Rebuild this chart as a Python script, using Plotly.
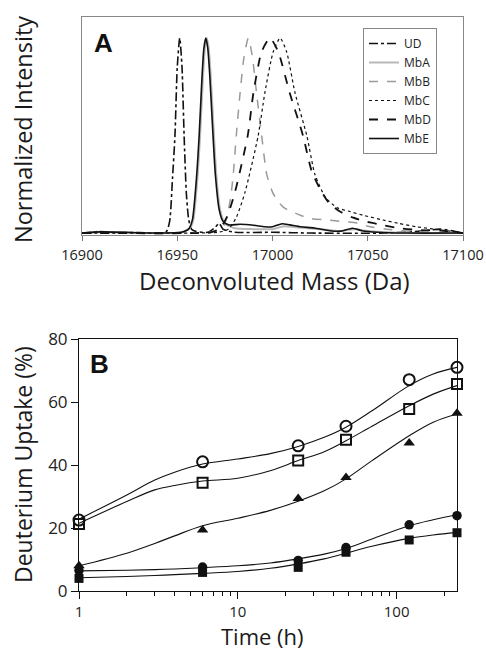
import plotly.graph_objects as go
import math

# ---------------- Panel A data ----------------
ud_mass = [16900, 16905, 16909, 16915, 16930, 16944, 16946, 16947.5, 16948.8, 16950, 16951.3, 16952.5, 16953.6, 16954.8, 16956, 16957.5, 16960, 16966, 16970, 16972, 16974, 16980, 17000, 17020, 17060, 17078, 17088, 17095, 17100]
ud_int = [0.0, 0.004, 0.008, 0.004, 0.002, 0.004, 0.06, 0.28, 0.5, 0.85, 1.0, 0.85, 0.5, 0.2, 0.07, 0.02, 0.008, 0.004, 0.03, 0.05, 0.02, 0.004, 0.004, 0.0, 0.0, 0.01, 0.02, 0.01, 0.0]

mba_mass = [16900, 16910, 16940, 16953, 16957, 16958.5, 16960.5, 16962, 16963.5, 16964.5, 16965.5, 16966.5, 16967.5, 16969, 16970.5, 16972.5, 16975, 16980, 16990, 17000, 17006, 17012, 17025, 17035, 17043, 17050, 17070, 17100]
mba_int = [0.0, 0.004, 0.0, 0.005, 0.03, 0.07, 0.27, 0.5, 0.8, 0.95, 1.0, 0.95, 0.82, 0.55, 0.3, 0.12, 0.05, 0.025, 0.02, 0.02, 0.035, 0.03, 0.02, 0.01, 0.02, 0.01, 0.0, 0.0]

mbb_mass = [16900, 16960, 16970, 16974, 16976, 16978, 16979.4, 16981, 16983, 16985, 16987.3, 16989.5, 16991.6, 16994.3, 16997, 17000, 17003, 17006, 17010, 17015, 17020, 17030, 17038, 17045, 17050, 17060, 17070, 17080, 17090, 17100]
mbb_int = [0.0, 0.0, 0.01, 0.03, 0.08, 0.18, 0.3, 0.5, 0.72, 0.9, 1.0, 0.9, 0.72, 0.5, 0.3, 0.21, 0.16, 0.13, 0.11, 0.09, 0.075, 0.066, 0.058, 0.05, 0.035, 0.02, 0.01, 0.005, 0.0, 0.0]

mbc_mass = [16900, 16960, 16972, 16976.8, 16981, 16985.6, 16992.5, 16996, 17000.4, 17004, 17007.4, 17011.8, 17018, 17022.3, 17028, 17034, 17040.7, 17048, 17058, 17066, 17075.7, 17085, 17093, 17100]
mbc_int = [0.0, 0.0, 0.005, 0.02, 0.08, 0.21, 0.5, 0.72, 0.93, 1.0, 0.93, 0.72, 0.5, 0.3, 0.18, 0.13, 0.11, 0.09, 0.067, 0.05, 0.032, 0.02, 0.01, 0.0]

mbd_mass = [16900, 16960, 16968, 16972, 16976, 16980.3, 16987, 16990, 16994.3, 16998.7, 17003, 17009, 17016, 17020.5, 17025.8, 17030, 17035.4, 17042, 17049.4, 17058, 17067, 17078, 17088, 17096, 17100]
mbd_int = [0.0, 0.0, 0.005, 0.02, 0.08, 0.21, 0.5, 0.72, 0.93, 1.0, 0.93, 0.72, 0.5, 0.32, 0.21, 0.15, 0.11, 0.08, 0.058, 0.04, 0.024, 0.015, 0.012, 0.005, 0.0]

mbe_mass = [16900, 16910, 16940, 16952, 16956, 16958, 16960, 16961.5, 16963, 16964, 16965, 16966, 16967, 16968.5, 16970, 16972, 16974, 16977, 16983, 16990, 16996, 17000, 17005, 17009, 17015, 17022, 17030, 17036, 17042, 17047, 17055, 17070, 17100]
mbe_int = [0.0, 0.006, 0.0, 0.004, 0.02, 0.07, 0.27, 0.5, 0.8, 0.95, 1.0, 0.95, 0.82, 0.55, 0.3, 0.12, 0.06, 0.042, 0.045, 0.04, 0.032, 0.032, 0.048, 0.042, 0.032, 0.026, 0.012, 0.01, 0.025, 0.012, 0.004, 0.0, 0.0]

series_names = ["UD", "MbA", "MbB", "MbC", "MbD", "MbE"]
mass_ticks = [16900, 16950, 17000, 17050, 17100]

# ---------------- Panel B data ----------------
time_h = [1, 6, 24, 48, 120, 240]
open_circle = [22.5, 41.0, 46.1, 52.3, 67.1, 71.0]
open_square = [21.3, 34.4, 41.4, 48.0, 57.8, 65.7]
filled_triangle = [8.0, 19.4, 29.4, 36.0, 47.0, 56.4]
filled_circle = [6.5, 7.6, 9.7, 13.8, 21.0, 23.9]
filled_square = [4.0, 5.9, 7.5, 12.3, 16.2, 18.5]

# fitted curves drawn through the points
fit_time = [1, 2, 3, 4, 6, 10, 16, 24, 35, 48, 70, 120, 170, 240]
fit_open_circle = [22.8, 30.5, 35.2, 37.7, 40.3, 41.9, 43.6, 45.9, 48.8, 52.0, 57.2, 65.2, 68.9, 71.0]
fit_open_square = [21.5, 28.4, 32.1, 33.5, 34.9, 35.8, 38.2, 41.4, 44.2, 47.7, 52.3, 58.8, 62.5, 65.2]
fit_filled_triangle = [8.0, 12.0, 15.1, 17.5, 20.7, 23.1, 25.6, 28.5, 31.8, 35.6, 41.4, 49.3, 53.6, 56.2]
fit_filled_circle = [6.4, 6.6, 6.8, 7.0, 7.4, 8.0, 8.9, 10.2, 11.7, 13.5, 16.5, 20.7, 22.6, 24.2]
fit_filled_square = [4.2, 4.6, 4.9, 5.2, 5.6, 6.2, 7.2, 8.6, 10.2, 12.0, 14.2, 16.7, 17.8, 18.6]
time_ticks = [1, 10, 100]

W, H = 486, 650
def px(x):
    return x / W
def py(y):
    return 1 - y / H

FONT = "Open Sans"
fig = go.Figure()

styleA = [
    (ud_mass, ud_int, dict(color="#111111", width=1.6, dash="dashdot")),
    (mba_mass, mba_int, dict(color="#b8b8b8", width=2.0, dash="solid")),
    (mbb_mass, mbb_int, dict(color="#9a9a9a", width=1.5, dash="dash")),
    (mbc_mass, mbc_int, dict(color="#111111", width=1.2, dash="dot")),
    (mbd_mass, mbd_int, dict(color="#111111", width=1.8, dash="dash")),
    (mbe_mass, mbe_int, dict(color="#111111", width=1.6, dash="solid")),
]
for name, (mx, my, ln) in zip(series_names, styleA):
    fig.add_trace(go.Scatter(x=mx, y=my, mode="lines", name=name,
                             line=dict(shape="spline", smoothing=0.6, **ln),
                             xaxis="x", yaxis="y"))

fits = [fit_open_circle, fit_open_square, fit_filled_triangle, fit_filled_circle, fit_filled_square]
for fv in fits:
    fig.add_trace(go.Scatter(x=fit_time, y=fv, mode="lines", showlegend=False,
                             line=dict(shape="spline", smoothing=1.0, color="#111111", width=1.1),
                             xaxis="x2", yaxis="y2"))

seriesB = [
    (open_circle, dict(symbol="circle-open", size=11, color="#111111", line=dict(width=2))),
    (open_square, dict(symbol="square-open", size=10, color="#111111", line=dict(width=2))),
    (filled_triangle, dict(symbol="triangle-up", size=10, color="#111111")),
    (filled_circle, dict(symbol="circle", size=9.5, color="#111111")),
    (filled_square, dict(symbol="square", size=9, color="#111111")),
]
for vals, mk in seriesB:
    fig.add_trace(go.Scatter(x=time_h, y=vals, mode="markers", showlegend=False,
                             marker=mk, xaxis="x2", yaxis="y2", cliponaxis=False))

minor_vals = [2, 3, 4, 5, 6, 7, 8, 9, 20, 30, 40, 50, 60, 70, 80, 90, 200]

fig.update_layout(
    template="none",
    width=W, height=H, margin=dict(l=0, r=0, t=0, b=0, pad=0, autoexpand=False),
    paper_bgcolor="white", plot_bgcolor="white",
    font=dict(family=FONT, color="#1a1a1a"),
    xaxis=dict(domain=[px(82), px(463)], anchor="y", range=[16900, 17100], automargin=False,
               tickvals=mass_ticks, ticktext=[str(t) for t in mass_ticks],
               ticks="outside", ticklen=5,
               tickcolor="#777777", showgrid=False, zeroline=False,
               showline=True, linecolor="#888888", linewidth=1, mirror=True,
               tickfont=dict(size=14.5, color="#222222"), ticklabelstandoff=2),
    yaxis=dict(domain=[py(235), py(17)], anchor="x", range=[-0.01, 1.108], automargin=False,
               showticklabels=False, ticks="", showgrid=False, zeroline=False,
               showline=True, linecolor="#888888", linewidth=1, mirror=True),
    xaxis2=dict(domain=[px(79), px(457)], anchor="y2", type="log", automargin=False,
                range=[0, math.log10(240)],
                tickvals=time_ticks, ticktext=[str(t) for t in time_ticks],
                ticks="outside", ticklen=7, tickcolor="#111111",
                minor=dict(tickvals=minor_vals, ticks="outside", ticklen=4, tickcolor="#111111", showgrid=False),
                showgrid=False, zeroline=False,
                showline=True, linecolor="#111111", linewidth=1, mirror=True,
                tickfont=dict(size=15, color="#222222")),
    yaxis2=dict(domain=[py(591), py(339)], anchor="x2", range=[0, 80], dtick=20, automargin=False,
                ticks="outside", ticklen=7, tickcolor="#111111",
                showgrid=False, zeroline=False,
                showline=True, linecolor="#111111", linewidth=1, mirror=True,
                tickfont=dict(size=17, color="#222222")),
    legend=dict(x=px(363), y=py(28), xanchor="left", yanchor="top",
                bordercolor="#888888", borderwidth=1, bgcolor="white",
                font=dict(size=12, color="#222222"), itemwidth=30,
                tracegroupgap=0),
)

annotations = [
    dict(text="<b>A</b>", x=px(103), y=py(43), font=dict(size=26, family="Liberation Sans", color="#111111")),
    dict(text="<b>B</b>", x=px(99), y=py(364), font=dict(size=26, family="Liberation Sans", color="#111111")),
    dict(text="Normalized Intensity", x=px(23), y=py(130), textangle=-90, font=dict(size=23.5)),
    dict(text="Deconvoluted Mass (Da)", x=px(274), y=py(280), font=dict(size=24)),
    dict(text="Deuterium Uptake (%)", x=px(23), y=py(465), textangle=-90, font=dict(size=23)),
    dict(text="Time (h)", x=px(262), y=py(636), font=dict(size=22)),
]
for a in annotations:
    a.update(xref="paper", yref="paper", showarrow=False, xanchor="center", yanchor="middle")
fig.update_layout(annotations=annotations)

fig.write_html("out.html", config={"displayModeBar": False},
               post_script="document.body.style.margin='0';document.body.style.overflow='hidden';")
